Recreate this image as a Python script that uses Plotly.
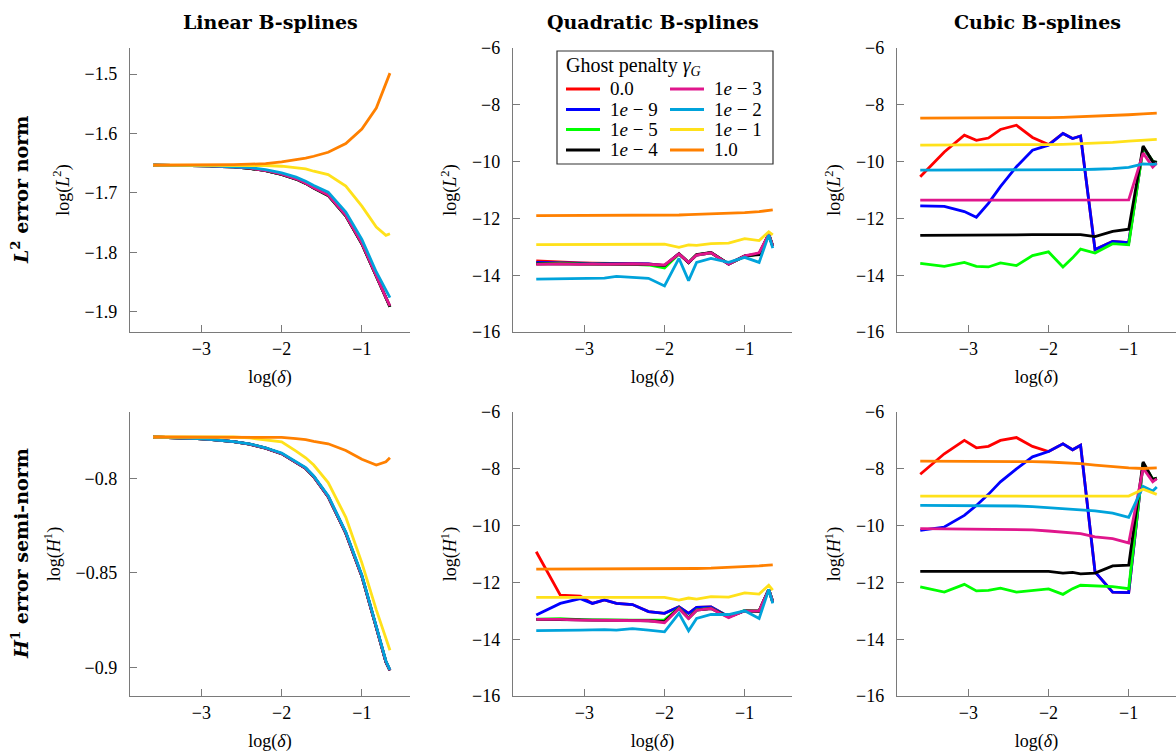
import plotly.graph_objects as go
from plotly.subplots import make_subplots

# ---------------- data ----------------
LOG_DELTA = [-3.6, -3.3, -3.05, -2.9, -2.75, -2.6, -2.4, -2.2, -2.0, -1.82, -1.7, -1.6, -1.42, -1.2, -1.0, -0.82, -0.7, -0.65]

GAMMA_NAMES = ["0.0", "1<i>e</i> − 9", "1<i>e</i> − 5", "1<i>e</i> − 4",
               "1<i>e</i> − 3", "1<i>e</i> − 2", "1<i>e</i> − 1", "1.0"]
LINE_COLORS = ["#FF0000", "#0000FF", "#00FF00", "#000000",
               "#E0168C", "#00A3DB", "#FFE11A", "#FF8000"]

COL_TITLES = ["Linear B-splines", "Quadratic B-splines", "Cubic B-splines"]
ROW_TITLES = ["<i>L</i><sup>2</sup> error norm", "<i>H</i><sup>1</sup> error semi-norm"]
Y_LABELS = ["log(<i>L</i><sup>2</sup>)", "log(<i>H</i><sup>1</sup>)"]
X_LABEL = "log(<i>δ</i>)"
LEGEND_TITLE = "Ghost penalty <i>γ<sub>G</sub></i>"

# Linear B-splines, L2
LIN_L2_G0 = [-1.6533, -1.6534, -1.6539, -1.6545, -1.6556, -1.6562, -1.6585, -1.6624, -1.6687, -1.6766, -1.6839, -1.6917, -1.7041, -1.7384, -1.7855, -1.8415, -1.8775, -1.8915]
LIN_L2_G9 = [-1.6533, -1.6534, -1.6539, -1.6545, -1.6556, -1.6562, -1.6585, -1.6624, -1.6687, -1.6766, -1.6839, -1.6917, -1.7041, -1.7384, -1.7855, -1.8415, -1.8775, -1.8915]
LIN_L2_G5 = [-1.6533, -1.6534, -1.6539, -1.6545, -1.6556, -1.6562, -1.6585, -1.6624, -1.6687, -1.6766, -1.6839, -1.6917, -1.7041, -1.7384, -1.7855, -1.8415, -1.8775, -1.8915]
LIN_L2_G4 = [-1.6533, -1.6534, -1.6539, -1.6545, -1.6556, -1.6562, -1.6585, -1.6624, -1.6687, -1.6766, -1.6839, -1.6917, -1.7041, -1.7384, -1.7855, -1.8415, -1.8775, -1.8915]
LIN_L2_G3 = [-1.6533, -1.6533, -1.6538, -1.6544, -1.6555, -1.6561, -1.6583, -1.6622, -1.6684, -1.6762, -1.6835, -1.6913, -1.7036, -1.7378, -1.7848, -1.8407, -1.8760, -1.8899]
LIN_L2_G2 = [-1.6533, -1.6533, -1.6538, -1.6544, -1.6550, -1.6555, -1.6572, -1.6606, -1.6662, -1.6734, -1.6802, -1.6874, -1.6986, -1.7322, -1.7780, -1.8330, -1.8648, -1.8760]
LIN_L2_G1 = [-1.6533, -1.6533, -1.6533, -1.6533, -1.6533, -1.6533, -1.6533, -1.6538, -1.6550, -1.6572, -1.6595, -1.6634, -1.6690, -1.6885, -1.7221, -1.7573, -1.7713, -1.7685]
LIN_L2_G10 = [-1.6533, -1.6533, -1.6533, -1.6527, -1.6527, -1.6522, -1.6516, -1.6505, -1.6477, -1.6443, -1.6415, -1.6382, -1.6315, -1.6169, -1.5923, -1.5571, -1.5151, -1.4983]

# Linear B-splines, H1
LIN_H1_G0 = [-0.7782, -0.7785, -0.7791, -0.7795, -0.7800, -0.7807, -0.7820, -0.7841, -0.7870, -0.7917, -0.7948, -0.7992, -0.8097, -0.8290, -0.8517, -0.8788, -0.8970, -0.9015]
LIN_H1_G9 = [-0.7782, -0.7785, -0.7791, -0.7795, -0.7800, -0.7807, -0.7820, -0.7841, -0.7870, -0.7917, -0.7948, -0.7992, -0.8097, -0.8290, -0.8517, -0.8788, -0.8970, -0.9015]
LIN_H1_G5 = [-0.7782, -0.7785, -0.7791, -0.7795, -0.7800, -0.7807, -0.7820, -0.7841, -0.7870, -0.7917, -0.7948, -0.7992, -0.8097, -0.8290, -0.8517, -0.8788, -0.8970, -0.9015]
LIN_H1_G4 = [-0.7782, -0.7785, -0.7791, -0.7795, -0.7800, -0.7807, -0.7820, -0.7841, -0.7870, -0.7917, -0.7948, -0.7992, -0.8097, -0.8290, -0.8517, -0.8788, -0.8970, -0.9015]
LIN_H1_G3 = [-0.7782, -0.7785, -0.7791, -0.7795, -0.7800, -0.7807, -0.7820, -0.7841, -0.7870, -0.7917, -0.7948, -0.7992, -0.8097, -0.8290, -0.8517, -0.8788, -0.8970, -0.9015]
LIN_H1_G2 = [-0.7782, -0.7785, -0.7791, -0.7794, -0.7799, -0.7806, -0.7818, -0.7839, -0.7867, -0.7914, -0.7944, -0.7988, -0.8092, -0.8284, -0.8511, -0.8782, -0.8965, -0.9012]
LIN_H1_G1 = [-0.7782, -0.7782, -0.7782, -0.7782, -0.7782, -0.7782, -0.7787, -0.7796, -0.7808, -0.7857, -0.7892, -0.7930, -0.8023, -0.8206, -0.8447, -0.8695, -0.8843, -0.8908]
LIN_H1_G10 = [-0.7782, -0.7782, -0.7782, -0.7782, -0.7782, -0.7782, -0.7782, -0.7784, -0.7784, -0.7791, -0.7796, -0.7805, -0.7818, -0.7853, -0.7900, -0.7930, -0.7913, -0.7892]

# Quadratic B-splines, L2
QUA_L2_G0 = [-13.50, -13.55, -13.57, -13.58, -13.58, -13.58, -13.60, -13.60, -13.66, -13.25, -13.55, -13.29, -13.21, -13.61, -13.33, -13.24, -12.57, -12.98]
QUA_L2_G9 = [-13.55, -13.57, -13.58, -13.58, -13.59, -13.59, -13.60, -13.60, -13.66, -13.25, -13.55, -13.29, -13.21, -13.61, -13.33, -13.24, -12.57, -12.98]
QUA_L2_G5 = [-13.60, -13.58, -13.60, -13.60, -13.60, -13.60, -13.62, -13.64, -13.75, -13.25, -13.55, -13.28, -13.21, -13.60, -13.34, -13.25, -12.56, -12.97]
QUA_L2_G4 = [-13.60, -13.60, -13.60, -13.60, -13.61, -13.60, -13.60, -13.62, -13.66, -13.24, -13.56, -13.27, -13.20, -13.60, -13.32, -13.28, -12.55, -12.98]
QUA_L2_G3 = [-13.62, -13.60, -13.62, -13.60, -13.62, -13.61, -13.60, -13.62, -13.64, -13.25, -13.55, -13.29, -13.21, -13.61, -13.32, -13.21, -12.55, -12.97]
QUA_L2_G2 = [-14.14, -14.12, -14.10, -14.09, -14.10, -14.04, -14.08, -14.11, -14.38, -13.41, -14.19, -13.55, -13.41, -13.55, -13.37, -13.55, -12.58, -13.05]
QUA_L2_G1 = [-12.92, -12.92, -12.93, -12.92, -12.91, -12.91, -12.91, -12.91, -12.91, -13.02, -12.93, -12.95, -12.89, -12.87, -12.71, -12.78, -12.47, -12.58]
QUA_L2_G10 = [-11.90, -11.90, -11.90, -11.90, -11.90, -11.90, -11.90, -11.89, -11.89, -11.88, -11.87, -11.86, -11.85, -11.83, -11.80, -11.76, -11.72, -11.70]

# Quadratic B-splines, H1
QUA_H1_G0 = [-10.92, -12.45, -12.48, -12.74, -12.62, -12.74, -12.78, -13.03, -13.09, -12.86, -13.09, -12.88, -12.86, -13.21, -13.00, -13.00, -12.25, -12.68]
QUA_H1_G9 = [-13.15, -12.74, -12.57, -12.74, -12.62, -12.74, -12.78, -13.03, -13.09, -12.86, -13.09, -12.88, -12.86, -13.21, -13.00, -13.00, -12.25, -12.68]
QUA_H1_G5 = [-13.29, -13.28, -13.31, -13.32, -13.33, -13.32, -13.33, -13.33, -13.32, -12.90, -13.25, -12.97, -12.91, -13.22, -12.99, -13.00, -12.26, -12.68]
QUA_H1_G4 = [-13.30, -13.30, -13.32, -13.33, -13.34, -13.33, -13.34, -13.35, -13.38, -12.91, -13.26, -12.98, -12.92, -13.22, -13.00, -13.02, -12.25, -12.69]
QUA_H1_G3 = [-13.30, -13.30, -13.33, -13.33, -13.35, -13.33, -13.34, -13.35, -13.42, -12.92, -13.27, -12.98, -12.92, -13.24, -13.00, -13.00, -12.25, -12.68]
QUA_H1_G2 = [-13.70, -13.70, -13.68, -13.67, -13.66, -13.68, -13.63, -13.68, -13.74, -13.09, -13.70, -13.27, -13.13, -13.13, -13.00, -13.27, -12.25, -12.74]
QUA_H1_G1 = [-12.53, -12.53, -12.52, -12.52, -12.51, -12.52, -12.52, -12.53, -12.53, -12.62, -12.55, -12.59, -12.50, -12.52, -12.37, -12.41, -12.10, -12.27]
QUA_H1_G10 = [-11.53, -11.53, -11.53, -11.53, -11.53, -11.53, -11.53, -11.52, -11.52, -11.52, -11.51, -11.51, -11.50, -11.48, -11.45, -11.42, -11.39, -11.38]

# Cubic B-splines, L2
CUB_L2_G0 = [-10.53, -9.66, -9.07, -9.25, -9.17, -8.87, -8.72, -9.15, -9.40, -9.01, -9.19, -9.10, -13.10, -12.81, -12.85, -9.50, -10.00, -10.05]
CUB_L2_G9 = [-11.56, -11.58, -11.76, -11.96, -11.47, -10.88, -10.18, -9.60, -9.42, -9.01, -9.19, -9.10, -13.10, -12.81, -12.85, -9.50, -10.00, -10.05]
CUB_L2_G5 = [-13.58, -13.69, -13.55, -13.69, -13.71, -13.57, -13.66, -13.31, -13.18, -13.71, -13.39, -13.08, -13.22, -12.89, -12.93, -9.50, -9.98, -10.05]
CUB_L2_G4 = [-12.60, -12.60, -12.59, -12.59, -12.59, -12.58, -12.58, -12.57, -12.56, -12.57, -12.57, -12.57, -12.64, -12.46, -12.38, -9.45, -10.00, -10.02]
CUB_L2_G3 = [-11.36, -11.36, -11.36, -11.36, -11.36, -11.36, -11.36, -11.36, -11.36, -11.36, -11.36, -11.36, -11.36, -11.36, -11.35, -9.70, -10.19, -10.05]
CUB_L2_G2 = [-10.30, -10.30, -10.30, -10.30, -10.30, -10.30, -10.30, -10.30, -10.29, -10.29, -10.28, -10.28, -10.27, -10.25, -10.20, -10.08, -10.10, -10.08]
CUB_L2_G1 = [-9.42, -9.42, -9.42, -9.42, -9.42, -9.42, -9.41, -9.41, -9.40, -9.39, -9.38, -9.37, -9.35, -9.32, -9.28, -9.25, -9.23, -9.22]
CUB_L2_G10 = [-8.47, -8.47, -8.46, -8.46, -8.46, -8.46, -8.46, -8.45, -8.45, -8.44, -8.43, -8.42, -8.41, -8.38, -8.35, -8.32, -8.30, -8.29]

# Cubic B-splines, H1
CUB_H1_G0 = [-8.19, -7.47, -7.00, -7.26, -7.21, -7.00, -6.90, -7.21, -7.39, -7.12, -7.33, -7.17, -11.63, -12.34, -12.36, -7.80, -8.40, -8.35]
CUB_H1_G9 = [-10.17, -10.05, -9.64, -9.29, -8.90, -8.46, -8.00, -7.58, -7.39, -7.12, -7.33, -7.17, -11.63, -12.34, -12.36, -7.80, -8.40, -8.35]
CUB_H1_G5 = [-12.16, -12.34, -12.07, -12.30, -12.28, -12.20, -12.34, -12.28, -12.23, -12.42, -12.22, -12.10, -12.12, -12.15, -12.22, -7.80, -8.37, -8.33]
CUB_H1_G4 = [-11.61, -11.61, -11.61, -11.60, -11.60, -11.61, -11.61, -11.62, -11.61, -11.67, -11.65, -11.70, -11.67, -11.42, -11.39, -7.76, -8.37, -8.33]
CUB_H1_G3 = [-10.11, -10.12, -10.12, -10.12, -10.12, -10.12, -10.13, -10.15, -10.19, -10.23, -10.26, -10.28, -10.40, -10.46, -10.61, -7.98, -8.46, -8.35]
CUB_H1_G2 = [-9.29, -9.29, -9.30, -9.30, -9.30, -9.31, -9.31, -9.33, -9.37, -9.40, -9.42, -9.44, -9.48, -9.56, -9.71, -8.62, -8.78, -8.64]
CUB_H1_G1 = [-8.96, -8.96, -8.96, -8.96, -8.96, -8.96, -8.96, -8.96, -8.96, -8.96, -8.96, -8.96, -8.96, -8.96, -8.96, -8.72, -8.85, -8.90]
CUB_H1_G10 = [-7.73, -7.73, -7.73, -7.73, -7.73, -7.74, -7.74, -7.75, -7.76, -7.78, -7.80, -7.82, -7.87, -7.93, -7.97, -7.99, -7.98, -7.97]

X_TICKS = [-3, -2, -1]
LIN_L2_TICKS = [-1.9, -1.8, -1.7, -1.6, -1.5]
LIN_H1_TICKS = [-0.9, -0.85, -0.8]
HIGH_TICKS = [-16, -14, -12, -10, -8, -6]

# ---------------- figure ----------------
W, H = 1176, 756
FONT = "Liberation Serif"
BOLD_FONT = "DejaVu Serif"
AXIS_GREY = "#7a7a7a"


def minus_text(vals):
    return [f"{v:g}".replace("-", "\u2212") for v in vals]


PANELS = {
    (1, 1): [LIN_L2_G0, LIN_L2_G9, LIN_L2_G5, LIN_L2_G4, LIN_L2_G3, LIN_L2_G2, LIN_L2_G1, LIN_L2_G10],
    (1, 2): [QUA_L2_G0, QUA_L2_G9, QUA_L2_G5, QUA_L2_G4, QUA_L2_G3, QUA_L2_G2, QUA_L2_G1, QUA_L2_G10],
    (1, 3): [CUB_L2_G0, CUB_L2_G9, CUB_L2_G5, CUB_L2_G4, CUB_L2_G3, CUB_L2_G2, CUB_L2_G1, CUB_L2_G10],
    (2, 1): [LIN_H1_G0, LIN_H1_G9, LIN_H1_G5, LIN_H1_G4, LIN_H1_G3, LIN_H1_G2, LIN_H1_G1, LIN_H1_G10],
    (2, 2): [QUA_H1_G0, QUA_H1_G9, QUA_H1_G5, QUA_H1_G4, QUA_H1_G3, QUA_H1_G2, QUA_H1_G1, QUA_H1_G10],
    (2, 3): [CUB_H1_G0, CUB_H1_G9, CUB_H1_G5, CUB_H1_G4, CUB_H1_G3, CUB_H1_G2, CUB_H1_G1, CUB_H1_G10],
}

X_DOM_PX = [(130, 410), (513, 792), (897, 1176)]
Y_DOM_PX = [(48, 332), (412, 696)]

fig = make_subplots(rows=2, cols=3)

for (r, c), series in PANELS.items():
    for i, ys in enumerate(series):
        fig.add_trace(
            go.Scatter(
                x=LOG_DELTA, y=ys, mode="lines",
                line=dict(color=LINE_COLORS[i], width=2.8),
                name=GAMMA_NAMES[i], showlegend=False,
                hoverinfo="x+y+name",
            ),
            row=r, col=c,
        )

for r in (1, 2):
    for c in (1, 2, 3):
        idx = (r - 1) * 3 + c
        xname = "xaxis" if idx == 1 else f"xaxis{idx}"
        yname = "yaxis" if idx == 1 else f"yaxis{idx}"
        x0, x1 = X_DOM_PX[c - 1]
        y0, y1 = Y_DOM_PX[r - 1]
        if c == 1:
            yrange = [-1.934, -1.456] if r == 1 else [-0.915, -0.765]
            yticks = LIN_L2_TICKS if r == 1 else LIN_H1_TICKS
        else:
            yrange = [-16, -6]
            yticks = HIGH_TICKS
        fig.layout[xname].update(
            domain=[x0 / W, x1 / W], range=[-3.89, -0.41 if c != 1 else -0.40],
            showline=True, linecolor=AXIS_GREY, linewidth=1.4,
            showgrid=False, zeroline=False, automargin=True,
            ticks="inside", ticklen=7, tickwidth=1.2, tickcolor=AXIS_GREY,
            tickvals=X_TICKS, ticktext=minus_text(X_TICKS),
            tickfont=dict(family=FONT, size=18, color="black"),
            title=dict(text=X_LABEL, standoff=12,
                       font=dict(family=FONT, size=18, color="black")),
        )
        fig.layout[yname].update(
            domain=[1 - y1 / H, 1 - y0 / H], range=yrange,
            showline=True, linecolor=AXIS_GREY, linewidth=1.4,
            showgrid=False, zeroline=False, automargin=True,
            ticks="inside", ticklen=7, tickwidth=1.2, tickcolor=AXIS_GREY,
            tickvals=yticks, ticktext=minus_text(yticks), ticklabelstandoff=8,
            tickfont=dict(family=FONT, size=18, color="black"),
            title=dict(text=Y_LABELS[r - 1], standoff=10,
                       font=dict(family=FONT, size=18, color="black")),
        )

annotations = []
col_centres = [270, 653, 1037]
for c in range(3):
    annotations.append(dict(x=col_centres[c] / W, y=1 - 22 / H, xref="paper", yref="paper",
                            text=COL_TITLES[c], showarrow=False,
                            font=dict(family=BOLD_FONT, size=19, color="black", weight="bold"),
                            xanchor="center", yanchor="middle"))
for r in range(2):
    yc = (Y_DOM_PX[r][0] + Y_DOM_PX[r][1]) / 2
    annotations.append(dict(x=20 / W, y=1 - yc / H, xref="paper", yref="paper",
                            text=ROW_TITLES[r], showarrow=False, textangle=-90,
                            font=dict(family=BOLD_FONT, size=19, color="black", weight="bold"),
                            xanchor="center", yanchor="middle"))

# legend box drawn by hand (two columns, column-major order)
shapes = [dict(type="rect", xref="paper", yref="paper",
               x0=557 / W, x1=773 / W, y0=1 - 164 / H, y1=1 - 51 / H,
               line=dict(color="#333333", width=1.2), fillcolor="white", layer="below")]
annotations.append(dict(x=564 / W, y=1 - 67 / H, xref="paper", yref="paper",
                        text=LEGEND_TITLE, showarrow=False,
                        font=dict(family=FONT, size=20, color="black"),
                        xanchor="left", yanchor="middle"))
LEG_ROWS_PX = [89, 109.5, 129.5, 150]
LEG_COLS_PX = [(566, 600, 608), (670, 704, 712)]
for i, name in enumerate(GAMMA_NAMES):
    kx0, kx1, tx = LEG_COLS_PX[i // 4]
    ky = LEG_ROWS_PX[i % 4]
    shapes.append(dict(type="line", xref="paper", yref="paper",
                       x0=kx0 / W, x1=kx1 / W, y0=1 - ky / H, y1=1 - ky / H,
                       line=dict(color=LINE_COLORS[i], width=2.8), layer="above"))
    annotations.append(dict(x=tx / W, y=1 - ky / H, xref="paper", yref="paper",
                            text=name, showarrow=False,
                            font=dict(family=FONT, size=19, color="black"),
                            xanchor="left", yanchor="middle"))

fig.update_layout(
    width=W, height=H,
    margin=dict(l=0, r=0, t=0, b=0, pad=0, autoexpand=False),
    paper_bgcolor="white", plot_bgcolor="white",
    font=dict(family=FONT, color="black"),
    annotations=annotations, shapes=shapes,
    showlegend=False,
)

fig.write_html("out.html", include_plotlyjs=True,
               config={"displayModeBar": False},
               post_script="document.body.style.margin='0';document.body.style.overflow='hidden';")
